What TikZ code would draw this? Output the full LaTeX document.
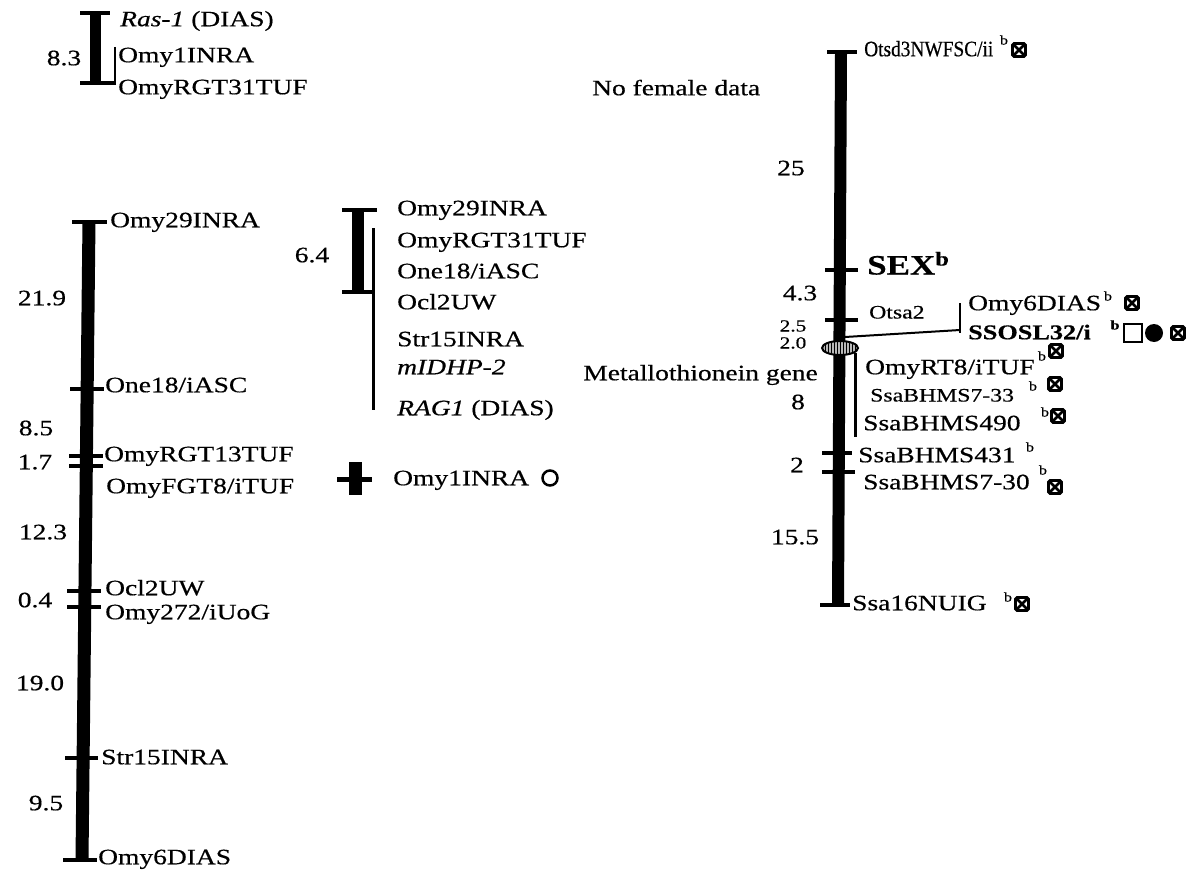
\documentclass[tikz,border=0pt]{standalone}
\usepackage{fontspec}
\setmainfont{Liberation Serif}[FakeStretch=1.25, FakeBold=0.5]
\newfontfamily\narrowser{Liberation Serif}[FakeStretch=0.88, FakeBold=0.5]
\usetikzlibrary{shapes.geometric,patterns}
\begin{document}
\begin{tikzpicture}[x=1pt,y=-1pt, font=\fontsize{22}{24}\selectfont,
  lab/.style={anchor=west, inner sep=0pt, text height=14.5pt, text depth=0pt},
  num/.style={inner sep=0pt, text height=14.5pt, text depth=0pt},
  sm/.style={font=\fontsize{13}{13}\selectfont, inner sep=0pt},
  chrom/.style={line width=13pt},
  tick/.style={line width=4pt},
  link/.style={line width=2.5pt},
  xsq/.style={draw, line width=2.6pt, minimum size=13pt, inner sep=0pt, rounded corners=1.5pt,
    path picture={\draw[line width=2.6pt] (path picture bounding box.north west) -- (path picture bounding box.south east)
      (path picture bounding box.north east) -- (path picture bounding box.south west);}},
  ]
\path[use as bounding box] (0,0) rectangle (1198,872);

% ---------- top-left linkage group ----------
\draw[tick] (80,13) -- (110,13);
\draw[line width=11pt] (95,13) -- (95,83);
\draw[tick] (80,83) -- (116,83);
\draw[link] (115,47) -- (115,85);
\node[num] (n83) at (64,58) {8.3};
\node[lab] (ras) at (120,19) {\textit{Ras-1} (DIAS)};
\node[lab] (omy1a) at (118,55) {Omy1INRA};
\node[lab] (rgt31a) at (118,87) {OmyRGT31TUF};

% ---------- left chromosome ----------
\draw[chrom] (89,221) -- (82,860);
\draw[tick] (72,222) -- (107,222);
\draw[tick] (70,389) -- (104,389);
\draw[tick] (69,456) -- (103,456);
\draw[tick] (69,466) -- (103,466);
\draw[tick] (67,591) -- (101,591);
\draw[tick] (67,607) -- (101,607);
\draw[tick] (65,758) -- (98,758);
\draw[tick] (63,860) -- (97,860);
\node[lab] (l1) at (110,220) {Omy29INRA};
\node[lab] (l2) at (105,385) {One18/iASC};
\node[lab] (l3) at (104,454) {OmyRGT13TUF};
\node[lab] (l4) at (106,486) {OmyFGT8/iTUF};
\node[lab] (l5) at (105,588) {Ocl2UW};
\node[lab] (l6) at (105,612) {Omy272/iUoG};
\node[lab] (l7) at (101,757) {Str15INRA};
\node[lab] (l8) at (98,857) {Omy6DIAS};
\node[num] (d1) at (42,298) {21.9};
\node[num] (d2) at (36,428) {8.5};
\node[num] (d3) at (35,462) {1.7};
\node[num] (d4) at (43,532) {12.3};
\node[num] (d5) at (35,600) {0.4};
\node[num] (d6) at (40,683) {19.0};
\node[num] (d7) at (46,803) {9.5};

% ---------- middle linkage group ----------
\draw[tick] (342,210) -- (377,210);
\draw[line width=12pt] (358,210) -- (358,292);
\draw[tick] (342,292) -- (375,292);
\draw[link,line width=3pt] (373,228) -- (373,410);
\node[num] (m64) at (312,255) {6.4};
\node[lab] (m1) at (397,208) {Omy29INRA};
\node[lab] (m2) at (397,240) {OmyRGT31TUF};
\node[lab] (m3) at (397,271) {One18/iASC};
\node[lab] (m4) at (397,302) {Ocl2UW};
\node[lab] (m5) at (397,339) {Str15INRA};
\node[lab] (m6) at (397,367) {\textit{mIDHP-2}};
\node[lab] (m7) at (397,408) {\textit{RAG1} (DIAS)};
% small cross
\draw[line width=13pt] (355,462) -- (355,495);
\draw[line width=5pt] (337,479) -- (372,479);
\node[lab] (m8) at (393,478) {Omy1INRA};
\node[draw, circle, line width=2.5pt, minimum size=15pt, inner sep=0pt] (mc) at (550,478) {};

\node[lab] (nofem) at (592,88) {No female data};

% ---------- right chromosome ----------
\draw[line width=12pt] (841,52) -- (838,605);
\draw[tick] (827,52) -- (857,52);
\draw[tick] (825,270) -- (858,270);
\draw[tick] (825,320) -- (858,320);
\draw[tick] (822,453) -- (852,453);
\draw[tick] (822,472) -- (855,472);
\draw[tick] (820,605) -- (850,605);

\node[lab, font=\narrowser\fontsize{22}{24}\selectfont] (r1) at (864,49) {Otsd3NWFSC/ii};
\node[sm] (r1b) at (1004,40) {b};
\node[xsq] (r1x) at (1019,50) {};
\node[num] (r25) at (791,168) {25};

\node[lab, font=\bfseries\fontsize{28}{30}\selectfont, text height=19pt] (sex) at (867,265) {SEX\textsuperscript{b}};
\node[num] (r43) at (800,293) {4.3};
\node[lab, font=\fontsize{19}{21}\selectfont, text height=13pt] (otsa) at (869,312) {Otsa2};
\node[num, font=\fontsize{17}{17}\selectfont, text height=11pt] (r25b) at (793,326) {2.5};
\node[num, font=\fontsize{17}{17}\selectfont, text height=11pt] (r20) at (793,343) {2.0};

\coordinate (jn) at (845,337);
\coordinate (jt) at (960,303);
\coordinate (jb) at (960,333);
\draw[link,line width=2pt] (jn) -- (960,330);
\draw[link] (jt) -- (jb);

\node[draw, ellipse, line width=2pt, minimum width=36pt, minimum height=14pt, inner sep=0pt,
  fill=gray!55, postaction={pattern=vertical lines}] (mt) at (840,348) {};
\node[lab, anchor=east] (metal) at (818,373) {Metallothionein gene};
\node[num] (r8) at (798,402) {8};
\draw[link,line width=3pt] (855,353) -- (855,437);

\node[lab] (r2) at (968,303) {Omy6DIAS};
\node[sm] (r2b) at (1108,296) {b};
\node[xsq] (r2x) at (1132,303) {};

\node[lab, font=\bfseries\fontsize{21}{24}\selectfont] (r3) at (968,332) {SSOSL32/i};
\node[sm, font=\bfseries\fontsize{13}{13}\selectfont] (r3b) at (1115,325) {b};
\node[draw, line width=2.5pt, minimum size=18pt, inner sep=0pt] (r3s) at (1133,333) {};
\node[fill, circle, minimum size=18pt, inner sep=0pt] (r3c) at (1154,333) {};
\node[xsq] (r3x) at (1178,333) {};

\node[lab] (r4) at (865,367) {OmyRT8/iTUF};
\node[sm] (r4b) at (1042,356) {b};
\node[xsq] (r4x) at (1056,351) {};

\node[lab, font=\fontsize{19}{21}\selectfont, text height=13pt] (r5) at (870,395) {SsaBHMS7-33};
\node[sm] (r5b) at (1033,386) {b};
\node[xsq] (r5x) at (1055,384) {};

\node[lab] (r6) at (863,423) {SsaBHMS490};
\node[sm] (r6b) at (1045,412) {b};
\node[xsq] (r6x) at (1058,416) {};

\node[lab] (r7) at (858,455) {SsaBHMS431};
\node[sm] (r7b) at (1030,447) {b};

\node[lab] (r8l) at (863,482) {SsaBHMS7-30};
\node[sm] (r8b) at (1043,470) {b};
\node[xsq] (r8x) at (1055,487) {};

\node[num] (r2n) at (797,465) {2};
\node[num] (r155) at (795,537) {15.5};

\node[lab] (r9) at (852,603) {Ssa16NUIG};
\node[sm] (r9b) at (1008,597) {b};
\node[xsq] (r9x) at (1022,604) {};
\end{tikzpicture}
\end{document}
